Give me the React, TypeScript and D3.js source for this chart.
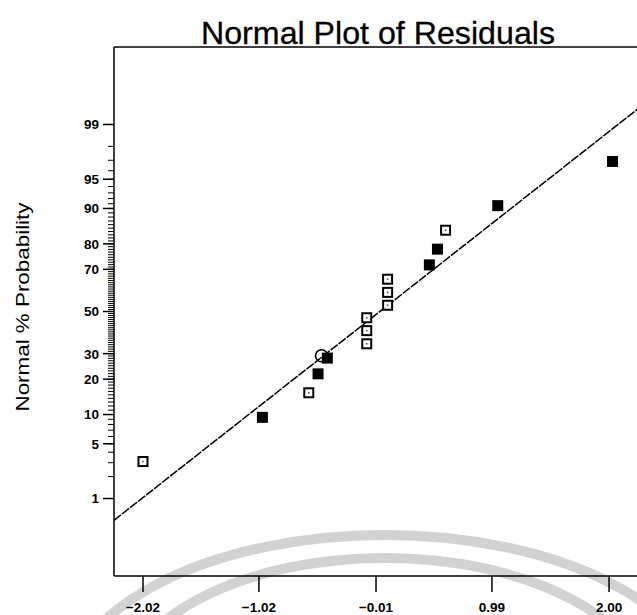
import React from "react";
import * as d3 from "d3";

// Residuals (x) and their normal probability positions (%)
const residuals = [
  -2.02, -0.99, -0.59, -0.51, -0.43, -0.09, -0.09, -0.09, 0.09, 0.09, 0.09,
  0.45, 0.52, 0.59, 1.04, 2.03,
];
const probabilities = [
  3.1, 9.4, 15.6, 21.9, 28.1, 34.4, 40.6, 46.9, 53.1, 59.4, 65.6, 71.9, 78.1,
  84.4, 90.6, 96.9,
];
const filledFlags = [
  false, true, false, true, true, false, false, false, false, false, false,
  true, true, false, true, true,
];

// circled (highlighted) point
const highlightResidual = [-0.48];
const highlightProbability = [29.1];

// reference line endpoints
const lineResiduals = [-2.27, 2.31];
const lineProbabilities = [0.47, 99.52];

const xTickValues = [-2.02, -1.02, -0.01, 0.99, 2.0];
const yTickValues = [1, 5, 10, 20, 30, 50, 70, 80, 90, 95, 99];
const yMinorValues = d3.range(1, 100);

// inverse normal CDF (Acklam's approximation)
function probit(p: number): number {
  const a = [-39.69683028665376, 220.9460984245205, -275.9285104469687, 138.357751867269, -30.66479806614716, 2.506628277459239];
  const b = [-54.47609879822406, 161.5858368580409, -155.6989798598866, 66.80131188771972, -13.28068155288572];
  const c = [-0.007784894002430293, -0.3223964580411365, -2.400758277161838, -2.549732539343734, 4.374664141464968, 2.938163982698783];
  const d = [0.007784695709041462, 0.3224671290700398, 2.445134137142996, 3.754408661907416];
  const pl = 0.02425;
  if (p < pl) {
    const q = Math.sqrt(-2 * Math.log(p));
    return (((((c[0] * q + c[1]) * q + c[2]) * q + c[3]) * q + c[4]) * q + c[5]) /
      ((((d[0] * q + d[1]) * q + d[2]) * q + d[3]) * q + 1);
  }
  if (p > 1 - pl) {
    const q = Math.sqrt(-2 * Math.log(1 - p));
    return -(((((c[0] * q + c[1]) * q + c[2]) * q + c[3]) * q + c[4]) * q + c[5]) /
      ((((d[0] * q + d[1]) * q + d[2]) * q + d[3]) * q + 1);
  }
  const q = p - 0.5;
  const r = q * q;
  return (((((a[0] * r + a[1]) * r + a[2]) * r + a[3]) * r + a[4]) * r + a[5]) * q /
    (((((b[0] * r + b[1]) * r + b[2]) * r + b[3]) * r + b[4]) * r + 1);
}

const App: React.FC = () => {
  const width = 637;
  const height = 615;
  const left = 114;
  const top = 47;
  const bottom = 576;

  const x = d3.scaleLinear().domain([-2.27, 2.31]).range([left, 645]);
  const zScale = d3.scaleLinear().domain([-3.29, 3.29]).range([bottom, top]);
  const y = (pct: number) => zScale(probit(pct / 100));

  const font = "'Liberation Sans', Arial, Helvetica, sans-serif";

  const line = d3
    .line<number>()
    .x((d) => x(lineResiduals[d]))
    .y((d) => y(lineProbabilities[d]));

  const sq = 11;

  return (
    <svg
      width={width}
      height={height}
      style={{ position: "absolute", left: 0, top: 0, background: "#fff" }}
    >
      <defs>
        <clipPath id="plot">
          <rect x={left} y={top} width={width - left} height={bottom - top} />
        </clipPath>
      </defs>

      {/* scan watermark arcs */}
      <g fill="none" stroke="#d2d2d2" strokeWidth={10}>
        <ellipse cx={385} cy={700} rx={320} ry={165} />
        <ellipse cx={385} cy={700} rx={265} ry={142} />
      </g>

      {/* title */}
      <text
        x={378}
        y={44}
        textAnchor="middle"
        fontFamily={font}
        fontSize={32}
        textLength={354}
        lengthAdjust="spacingAndGlyphs"
        stroke="#000"
        strokeWidth={0.3}
      >
        Normal Plot of Residuals
      </text>

      {/* y axis title */}
      <text
        transform="translate(29, 307) rotate(-90)"
        textAnchor="middle"
        fontFamily={font}
        fontSize={19}
        textLength={209}
        lengthAdjust="spacingAndGlyphs"
      >
        Normal % Probability
      </text>

      {/* frame */}
      <g stroke="#000" strokeWidth={1.5} fill="none">
        <line x1={left} y1={top} x2={width} y2={top} />
        <line x1={left} y1={top} x2={left} y2={bottom} />
        <line x1={left} y1={bottom} x2={width} y2={bottom} />
      </g>

      {/* y minor ticks */}
      <g stroke="#000" strokeWidth={1}>
        {yMinorValues.map((p) => (
          <line key={p} x1={left - 6} x2={left} y1={y(p)} y2={y(p)} />
        ))}
      </g>

      {/* y major ticks + labels */}
      {yTickValues.map((p) => (
        <g key={p}>
          <line x1={left - 11} x2={left} y1={y(p)} y2={y(p)} stroke="#000" strokeWidth={1.5} />
          <text
            x={99}
            y={y(p)}
            dy="0.36em"
            textAnchor="end"
            fontFamily={font}
            fontWeight="bold"
            fontSize={13.5}
          >
            {p}
          </text>
        </g>
      ))}

      {/* x ticks + labels */}
      {xTickValues.map((v) => (
        <g key={v}>
          <line x1={x(v)} x2={x(v)} y1={bottom} y2={bottom + 16} stroke="#000" strokeWidth={1.5} />
          <text
            x={x(v)}
            y={612}
            textAnchor="middle"
            fontFamily={font}
            fontWeight="bold"
            fontSize={13.5}
          >
            {d3.format(".2f")(v)}
          </text>
        </g>
      ))}

      {/* reference line */}
      <path
        d={line([0, 1]) || ""}
        fill="none"
        stroke="#000"
        strokeWidth={1.5}
        strokeDasharray="9 1.2"
        clipPath="url(#plot)"
      />

      {/* points */}
      {residuals.map((r, i) => {
        const cx = x(r);
        const cy = y(probabilities[i]);
        return filledFlags[i] ? (
          <rect key={i} x={cx - sq / 2} y={cy - sq / 2} width={sq} height={sq} fill="#000" />
        ) : (
          <g key={i}>
            <rect
              x={cx - sq / 2 + 1}
              y={cy - sq / 2 + 1}
              width={sq - 2}
              height={sq - 2}
              fill="#fff"
              stroke="#000"
              strokeWidth={2}
            />
            <rect x={cx - 0.8} y={cy - 0.8} width={1.6} height={1.6} fill="#555" />
          </g>
        );
      })}

      {/* highlighted point */}
      {highlightResidual.map((r, i) => (
        <circle
          key={i}
          cx={x(r)}
          cy={y(highlightProbability[i])}
          r={6}
          fill="none"
          stroke="#000"
          strokeWidth={1.6}
        />
      ))}
    </svg>
  );
};

export default App;
